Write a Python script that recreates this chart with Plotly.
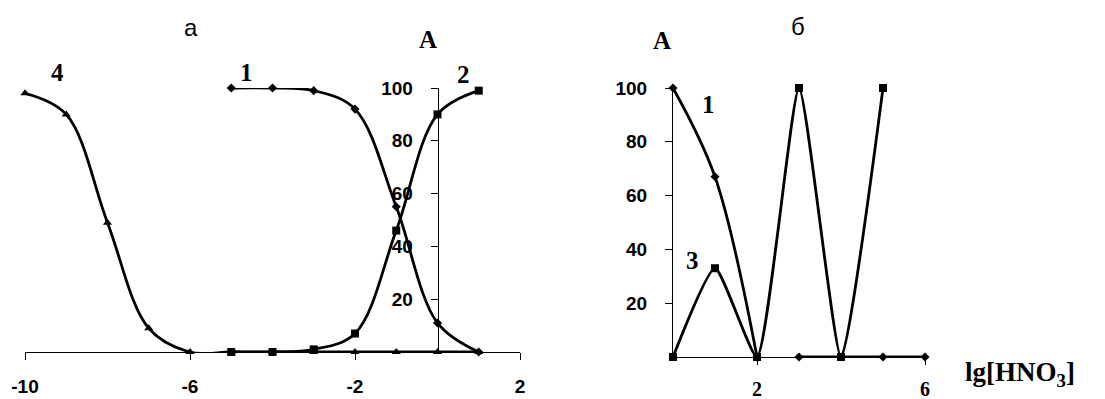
import plotly.graph_objects as go

# ---- Panel "а" data ----
x_a = [-10, -9, -8, -7, -6, -5, -4, -3, -2, -1, 0, 1]
curve4_a = [98, 90, 49, 9, 0, 0, 0, 0, 0, 0, 0, 0]
x_a1 = [-5, -4, -3, -2, -1, 0, 1]
curve1_a = [100, 100, 99, 92, 55, 11, 0]
curve2_a = [0, 0, 1, 7, 46, 90, 99]

# ---- Panel "б" data ----
x_b1 = [0, 1, 2]
curve1_b = [100, 67, 0]
x_b1_tail = [3, 4, 5, 6]
curve1_b_tail = [0, 0, 0, 0]
x_b3 = [0, 1, 2, 3, 4, 5]
curve3_b = [0, 33, 0, 100, 0, 100]

xticks_a = [-10, -6, -2, 2]
xticklabels_a = ["-10", "-6", "-2", "2"]
xticks_b = [2, 6]
xticklabels_b = ["2", "6"]
yticks = [20, 40, 60, 80, 100]

W, H = 1105, 399
OFF = 8  # page body margin
def px(x):
    return (x - OFF) / W
def py(y):
    return 1 - (y - OFF) / H

BLACK = "black"
LW = 2.8

fig = go.Figure()

def add(x, y, sym, size, xa, ya, mode="lines+markers", smoothing=1.0):
    fig.add_trace(go.Scatter(
        x=x, y=y, mode=mode, xaxis=xa, yaxis=ya,
        line=dict(color=BLACK, width=LW, shape="spline", smoothing=smoothing),
        marker=dict(symbol=sym, size=size, color=BLACK),
        cliponaxis=False, hoverinfo="skip"))

add(x_a, curve4_a, "triangle-up", 8, "x", "y")
add(x_a1, curve1_a, "diamond", 7, "x", "y")
add(x_a1, curve2_a, "square", 8, "x", "y")

add(x_b1, curve1_b, "diamond", 7, "x2", "y2")
add(x_b1_tail, curve1_b_tail, "diamond", 7, "x2", "y2")
add(x_b3, curve3_b, "square", 8, "x2", "y2", smoothing=0.5)

tickfont = dict(family="Liberation Sans", size=19, color=BLACK, weight="bold")
common = dict(showline=True, linecolor=BLACK, linewidth=1, ticks="outside",
              ticklen=7, tickcolor=BLACK, showgrid=False, zeroline=False,
              automargin=False)

fig.update_layout(
    width=W, height=H,
    margin=dict(l=0, r=0, t=0, b=0, pad=0, autoexpand=False),
    plot_bgcolor="white", paper_bgcolor="white",
    showlegend=False,
    xaxis=dict(domain=[px(25), px(520)], range=[-10, 2], tickvals=xticks_a,
               ticktext=xticklabels_a,
               anchor="y", ticklabelstandoff=10, tickfont=tickfont, **common),
    yaxis=dict(domain=[py(352), py(88)], range=[0, 100], tickvals=yticks,
               anchor="free", position=px(437.7), ticklabelstandoff=14,
               tickfont=tickfont, **common),
    xaxis2=dict(domain=[px(673), px(925)], range=[0, 6], tickvals=xticks_b,
                ticktext=xticklabels_b,
                anchor="y2", ticklabelstandoff=7,
                tickfont=dict(family="Liberation Serif", size=20, color=BLACK, weight="bold"),
                **common),
    yaxis2=dict(domain=[py(357), py(88)], range=[0, 100], tickvals=yticks,
                anchor="x2", ticklabelstandoff=14, tickfont=tickfont, **common),
)

serif = dict(family="Liberation Serif", size=25, color=BLACK, weight="bold")
sans = dict(family="Liberation Sans", size=24, color=BLACK)

labels = [
    ("а", 191, 27, sans),
    ("A", 428, 39, serif),
    ("4", 57, 73, serif),
    ("1", 246, 72, serif),
    ("2", 463, 74, serif),
    ("б", 798, 26, sans),
    ("A", 662, 41, serif),
    ("1", 708, 104, serif),
    ("3", 692, 260, serif),
]
for text, x, y, f in labels:
    fig.add_annotation(text=text, x=px(x), y=py(y), xref="paper", yref="paper",
                       showarrow=False, font=f, xanchor="center", yanchor="middle")

fig.add_annotation(text="lg[HNO<sub>3</sub>]", x=px(963), y=py(374), xref="paper",
                   yref="paper", showarrow=False,
                   font=dict(family="Liberation Serif", size=27, color=BLACK, weight="bold"),
                   xanchor="left", yanchor="middle")

fig.write_html("out.html")
